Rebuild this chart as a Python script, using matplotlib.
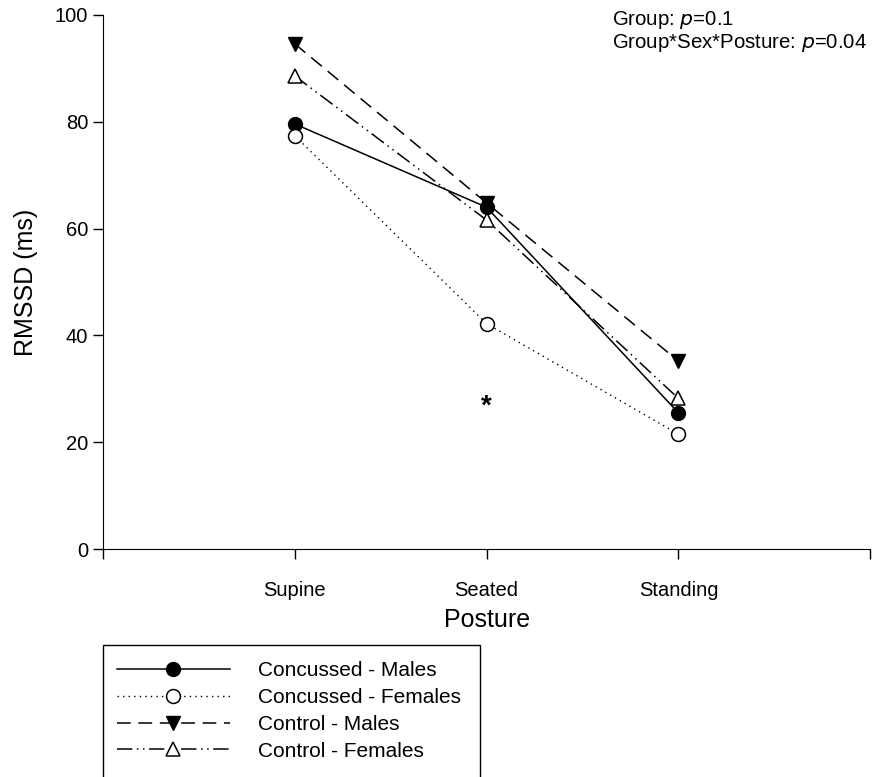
import numpy as np
import matplotlib.pyplot as plt
from matplotlib.patches import Rectangle

plt.rcParams['font.family'] = ['Liberation Sans', 'DejaVu Sans']

postures = ["Supine", "Seated", "Standing"]
conc_males = [79.6, 64.0, 25.5]
conc_females = [77.4, 42.2, 21.5]
ctrl_males = [94.6, 64.8, 35.2]
ctrl_females = [88.6, 61.6, 28.2]
star_y = 26.6

x = np.arange(1, len(postures) + 1)

fig = plt.figure(figsize=(8.72, 7.77), dpi=100)
ax = fig.add_axes([0.118, 0.2934, 0.880, 0.6873])

ms = 10
ax.plot(x, conc_males, '-', color='black', lw=1.1, marker='o', ms=ms,
        mfc='black', mec='black', label="Concussed - Males")
ax.plot(x, conc_females, color='black', lw=1.0, ls=(0, (1, 3)), marker='o', ms=ms,
        mfc='white', mec='black', mew=1.1, label="Concussed - Females")
ax.plot(x, ctrl_males, color='black', lw=1.1, ls=(0, (9, 5)), marker='v', ms=ms,
        mfc='black', mec='black', label="Control - Males")
ax.plot(x, ctrl_females, color='black', lw=1.1, ls=(0, (10, 3, 1, 3, 1, 3)), marker='^',
        ms=ms, mfc='white', mec='black', mew=1.1, label="Control - Females")
ax.text(2, star_y, "*", ha='center', va='center', fontsize=20, fontweight='bold')

ax.set_xlim(0, 4)
ax.set_ylim(0, 100)
ax.set_xticks([0, 1, 2, 3, 4])
ax.set_xticklabels(["", "Supine", "Seated", "Standing", ""], fontsize=14.5)
ax.set_yticks([0, 20, 40, 60, 80, 100])
ax.tick_params(axis='y', labelsize=14.5, length=7, width=1, direction='out')
ax.tick_params(axis='x', length=7, width=1, direction='out', pad=16)
ax.spines['top'].set_visible(False)
ax.spines['right'].set_visible(False)
ax.set_ylabel("RMSSD (ms)", fontsize=18, labelpad=12)
ax.set_xlabel("Posture", fontsize=18, labelpad=6)

fig.text(612 / 872, 1 - 9 / 777,
         "Group: $\\it{p}$=0.1\nGroup*Sex*Posture: $\\it{p}$=0.04",
         fontsize=14.7, va='top', ha='left', linespacing=1.05)

rect = Rectangle((103 / 872, -0.05), (480 - 103) / 872, (777 - 645) / 777 + 0.05,
                 transform=fig.transFigure, fill=False, edgecolor='black', lw=1.0,
                 clip_on=False)
fig.patches.append(rect)

handles, labels = ax.get_legend_handles_labels()
leg = fig.legend(handles, labels, loc='upper left', frameon=False, fontsize=15,
                 handlelength=5.4, handletextpad=1.35, labelspacing=0.38,
                 borderpad=0, borderaxespad=0,
                 bbox_to_anchor=(117 / 872, 1 - 661 / 777),
                 bbox_transform=fig.transFigure)

fig.savefig("out.png", dpi=100)
